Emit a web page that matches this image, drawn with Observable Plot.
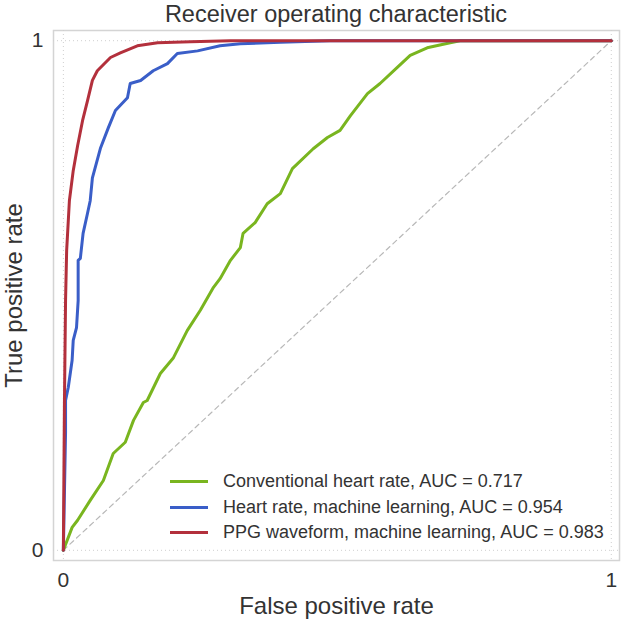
<!DOCTYPE html>
<html>
<head>
<meta charset="utf-8">
<script src="https://cdn.jsdelivr.net/npm/d3@7"></script>
<script src="https://cdn.jsdelivr.net/npm/@observablehq/plot@0.6"></script>
<style>
  body { margin: 0; background: #fff; }
  #wrap { position: relative; width: 630px; height: 620px; font-family: "Liberation Sans", Arial, sans-serif; color: #333; }
  #title { position: absolute; left: 0; top: 0px; width: 672px; text-align: center; font-size: 23.5px; line-height: 28px; }
  #legend { position: absolute; left: 170px; top: 469px; font-size: 18px; }
  .row { display: flex; align-items: center; height: 25.5px; }
  .swatch { width: 38px; height: 3px; margin-right: 15px; }
</style>
</head>
<body>
<div id="wrap">
  <div id="title">Receiver operating characteristic</div>
  <div id="legend"></div>
</div>
<script>
const seriesNames = [
  "Conventional heart rate, AUC = 0.717",
  "Heart rate, machine learning, AUC = 0.954",
  "PPG waveform, machine learning, AUC = 0.983"
];
const seriesColors = ["#79b51f", "#3a5ec8", "#b3303c"];

const fprConventional = [0, 0.016, 0.026, 0.049, 0.073, 0.091, 0.113, 0.128, 0.146, 0.153, 0.177, 0.201, 0.226, 0.250, 0.274, 0.286, 0.305, 0.323, 0.328, 0.350, 0.372, 0.396, 0.418, 0.456, 0.482, 0.505, 0.524, 0.555, 0.578, 0.609, 0.633, 0.664, 0.706, 0.724, 1];
const tprConventional = [0, 0.045, 0.059, 0.098, 0.137, 0.190, 0.212, 0.255, 0.290, 0.294, 0.347, 0.378, 0.431, 0.471, 0.516, 0.533, 0.569, 0.594, 0.622, 0.643, 0.680, 0.700, 0.749, 0.788, 0.810, 0.824, 0.853, 0.896, 0.916, 0.947, 0.971, 0.986, 0.996, 1, 1];

const fprHeartML = [0, 0.004, 0.004, 0.009, 0.016, 0.018, 0.024, 0.027, 0.027, 0.031, 0.036, 0.044, 0.049, 0.053, 0.068, 0.082, 0.095, 0.117, 0.122, 0.141, 0.164, 0.190, 0.208, 0.245, 0.286, 0.323, 0.396, 0.487, 1];
const tprHeartML = [0, 0.231, 0.294, 0.320, 0.373, 0.412, 0.437, 0.490, 0.569, 0.573, 0.622, 0.661, 0.686, 0.731, 0.790, 0.829, 0.863, 0.888, 0.916, 0.922, 0.941, 0.955, 0.975, 0.980, 0.990, 0.994, 0.997, 1, 1];

const fprPPG = [0, 0.002, 0.004, 0.006, 0.011, 0.018, 0.026, 0.035, 0.044, 0.053, 0.062, 0.086, 0.104, 0.135, 0.172, 0.232, 0.305, 1];
const tprPPG = [0, 0.294, 0.490, 0.588, 0.686, 0.745, 0.794, 0.843, 0.882, 0.922, 0.941, 0.967, 0.976, 0.990, 0.996, 0.998, 1, 1];

const chanceLine = [0, 1];

const fprs = [fprConventional, fprHeartML, fprPPG];
const tprs = [tprConventional, tprHeartML, tprPPG];
const rows = seriesNames.flatMap((name, i) => fprs[i].map((x, j) => ({series: name, x, y: tprs[i][j]})));

const chart = Plot.plot({
  width: 630,
  height: 620,
  marginLeft: 53,
  marginRight: 11,
  marginTop: 30,
  marginBottom: 60,
  style: {fontSize: "21px", fontFamily: "'Liberation Sans', Arial, sans-serif", color: "#333", background: "transparent"},
  x: {domain: [-0.018, 1.015], ticks: [0, 1], tickFormat: d => String(d), tickSize: 0, tickPadding: 12,
      label: "False positive rate", labelAnchor: "center", labelOffset: 53, labelArrow: "none"},
  y: {domain: [-0.02, 1.02], ticks: [0, 1], tickFormat: d => String(d), tickSize: 0, tickPadding: 10,
      label: "True positive rate", labelAnchor: "center", labelOffset: 49, labelArrow: "none"},
  color: {domain: seriesNames, range: seriesColors},
  marks: [
    Plot.frame({stroke: "#d4d4d4", strokeWidth: 1.5}),
    Plot.ruleX([0, 1], {stroke: "#cfcfcf", strokeDasharray: "1,3"}),
    Plot.ruleY([0, 1], {stroke: "#cfcfcf", strokeDasharray: "1,3"}),
    Plot.line(chanceLine, {x: d => d, y: d => d, stroke: "#b8b8b8", strokeWidth: 1.2, strokeDasharray: "5,4"}),
    Plot.line(rows, {x: "x", y: "y", z: "series", stroke: "series", strokeWidth: 3, strokeLinejoin: "round"})
  ]
});
d3.select(chart).selectAll("[aria-label='x-axis label'], [aria-label='y-axis label']").attr("font-size", "24px").selectAll("text").attr("font-size", "24px");
const wrap = document.getElementById("wrap");
wrap.insertBefore(chart, wrap.firstChild);

const legend = document.getElementById("legend");
seriesNames.forEach((name, i) => {
  const row = document.createElement("div");
  row.className = "row";
  const sw = document.createElement("div");
  sw.className = "swatch";
  sw.style.background = seriesColors[i];
  const label = document.createElement("span");
  label.textContent = name;
  row.appendChild(sw);
  row.appendChild(label);
  legend.appendChild(row);
});
</script>
</body>
</html>
